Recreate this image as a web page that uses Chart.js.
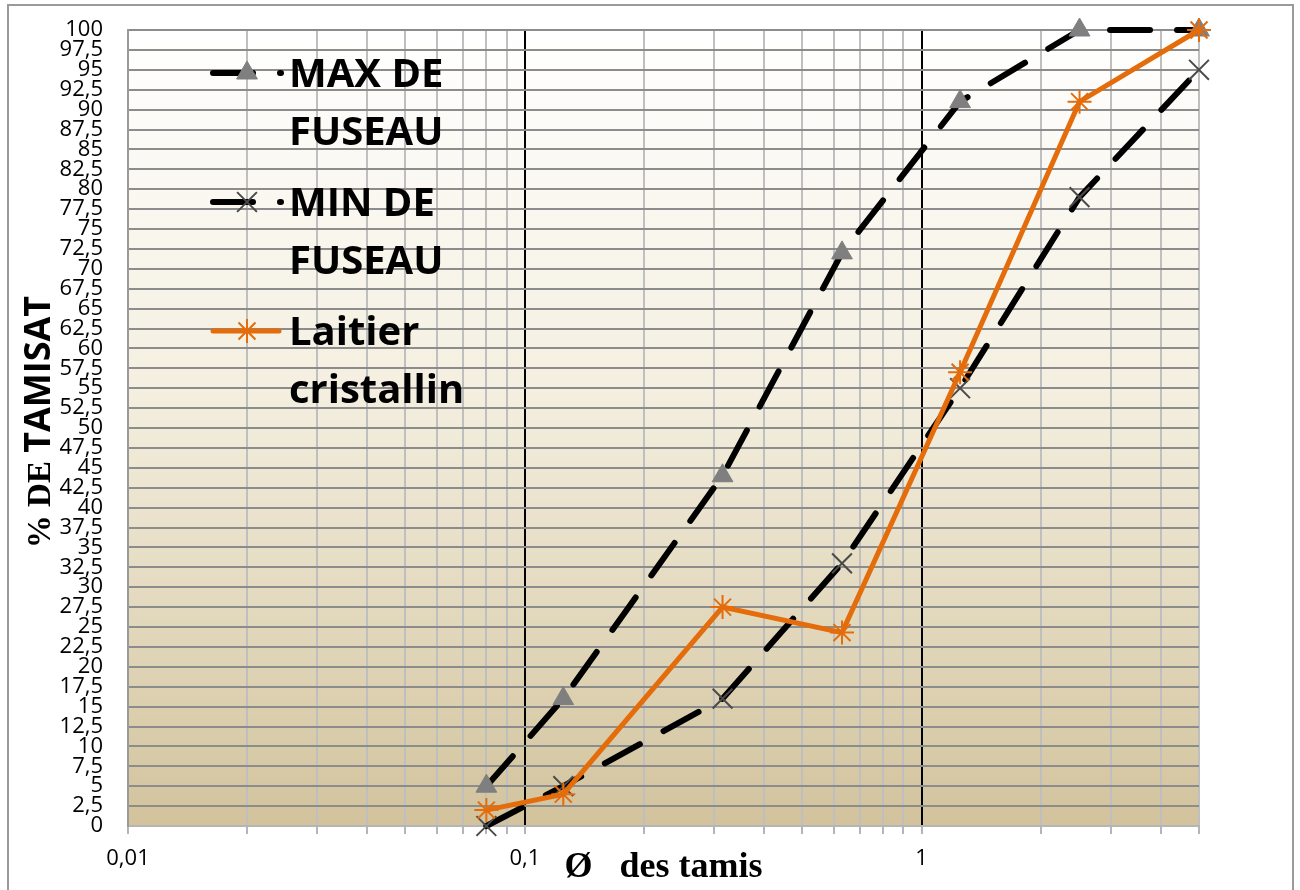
<!DOCTYPE html>
<html>
<head>
<meta charset="utf-8">
<title>Courbe granulométrique</title>
<script src="https://cdn.jsdelivr.net/npm/chart.js@4/dist/chart.umd.min.js"></script>
<style>
  html, body { margin: 0; padding: 0; background: #fff; overflow: hidden; }
  canvas { display: block; }
</style>
</head>
<body>
<canvas id="granulo" width="1300" height="890"></canvas>
<script>
// sieve openings (mm) and % passing
const sieves = [0.08, 0.125, 0.315, 0.63, 1.25, 2.5, 5];
const maxFuseau = [5, 16, 44, 72, 91, 100, 100];
const minFuseau = [0, 5, 16, 33, 55, 79, 95];
const laitier = [2, 4, 27.5, 24.3, 57, 91, 100];

const seriesNames = [["MAX DE", "FUSEAU"], ["MIN DE", "FUSEAU"], ["Laitier", "cristallin"]];

// log grid lines on the x axis, only decades get a label
const xGridValues = [0.01, 0.02, 0.03, 0.04, 0.05, 0.06, 0.07, 0.08, 0.09,
  0.1, 0.2, 0.3, 0.4, 0.5, 0.6, 0.7, 0.8, 0.9, 1, 2, 3, 4, 5];
const xTickValues = [0.01, 0.1, 1];
const xTickLabels = ["0,01", "0,1", "1"];
const xMajorLines = [0.1, 1];

const xTitle = "Ø   des tamis";
const yTitle = ["% DE ", "TAMISAT"];

function toPoints(xs, ys) {
  return ys.map(function (y, i) {
    return { x: xs[i], y: y };
  });
}

// white-to-sand fill behind the plot
const plotBackground = {
  id: "plotBackground",
  beforeDraw(chart) {
    const { ctx, chartArea: a } = chart;
    ctx.save();
    ctx.strokeStyle = "#9a9a9a";
    ctx.lineWidth = 2;
    ctx.strokeRect(8, 5, 1285, 900);
    const g = ctx.createLinearGradient(0, a.top, 0, a.bottom);
    g.addColorStop(0, "#ffffff");
    g.addColorStop(0.45, "#f4efe0");
    g.addColorStop(1, "#d2c39c");
    ctx.fillStyle = g;
    ctx.fillRect(a.left, a.top, a.right - a.left, a.bottom - a.top);
    ctx.restore();
  },
};

// axis titles: mixed serif / sans like the original sheet
const axisTitles = {
  id: "axisTitles",
  afterDraw(chart) {
    const { ctx, chartArea: a } = chart;
    ctx.save();
    ctx.fillStyle = "#000";
    ctx.textBaseline = "alphabetic";

    ctx.font = "bold 36px 'Liberation Serif'";
    ctx.textAlign = "center";
    ctx.fillText(xTitle, (a.left + a.right) / 2, 877);

    ctx.translate(50, 422);
    ctx.rotate(-Math.PI / 2);
    const serif = "bold 33px 'Liberation Serif'";
    const sans = "bold 36px 'Open Sans'";
    ctx.font = serif;
    const w1 = ctx.measureText(yTitle[0]).width;
    ctx.font = sans;
    const w2 = ctx.measureText(yTitle[1]).width;
    const x = -(w1 + w2) / 2;
    ctx.textAlign = "left";
    ctx.font = serif;
    ctx.fillText(yTitle[0], x, 0);
    ctx.font = sans;
    ctx.fillText(yTitle[1], x + w1, 0);
    ctx.restore();
  },
};

function drawMarker(ctx, ds, x, y) {
  ctx.save();
  ctx.fillStyle = ds.pointBackgroundColor;
  ctx.strokeStyle = ds.pointBorderColor;
  ctx.lineWidth = ds.pointBorderWidth;
  Chart.helpers.drawPoint(ctx, {
    pointStyle: ds.pointStyle,
    radius: ds.pointRadius,
    borderWidth: ds.pointBorderWidth,
    rotation: 0,
  }, x, y);
  ctx.restore();
}

// two-line legend entries in the upper left of the plot
const bigLegend = {
  id: "bigLegend",
  afterDraw(chart) {
    const { ctx } = chart;
    ctx.save();
    chart.data.datasets.forEach(function (ds, i) {
      const base = 87 + i * 129;
      const ly = base - 14;
      ctx.save();
      ctx.strokeStyle = ds.borderColor;
      ctx.lineWidth = ds.borderWidth;
      ctx.lineCap = "round";
      ctx.setLineDash(ds.borderDash || []);
      ctx.beginPath();
      ctx.moveTo(213, ly);
      ctx.lineTo(ds.borderDash ? 281 : 279, ly);
      ctx.stroke();
      ctx.restore();
      drawMarker(ctx, ds, 247, ly);
      ctx.fillStyle = "#000";
      ctx.font = "bold 40px 'Open Sans'";
      ctx.textAlign = "left";
      ctx.textBaseline = "alphabetic";
      seriesNames[i].forEach(function (line, k) {
        ctx.fillText(line, 289, base + k * 58);
      });
    });
    ctx.restore();
  },
};

const ctx = document.getElementById("granulo").getContext("2d");

Chart.defaults.font.family = "'Open Sans'";
Chart.defaults.color = "#000";

new Chart(ctx, {
  type: "scatter",
  data: {
    datasets: [
      {
        label: seriesNames[0].join(" "),
        data: toPoints(sieves, maxFuseau),
        showLine: true,
        borderColor: "#000",
        borderWidth: 6,
        borderDash: [40, 27],
        borderCapStyle: "round",
        pointStyle: "triangle",
        pointRadius: 12,
        pointBackgroundColor: "#7f7f7f",
        pointBorderColor: "#7f7f7f",
        pointBorderWidth: 1,
        clip: false,
        order: 2,
      },
      {
        label: seriesNames[1].join(" "),
        data: toPoints(sieves, minFuseau),
        showLine: true,
        borderColor: "#000",
        borderWidth: 6,
        borderDash: [40, 27],
        borderCapStyle: "round",
        pointStyle: "crossRot",
        pointRadius: 14,
        pointBackgroundColor: "#4a4a4a",
        pointBorderColor: "#4a4a4a",
        pointBorderWidth: 2,
        clip: false,
        order: 1,
      },
      {
        label: seriesNames[2].join(" "),
        data: toPoints(sieves, laitier),
        showLine: true,
        borderColor: "#e46c0a",
        borderWidth: 5,
        pointStyle: "star",
        pointRadius: 12,
        pointBackgroundColor: "#e46c0a",
        pointBorderColor: "#e46c0a",
        pointBorderWidth: 2,
        clip: false,
        order: 0,
      },
    ],
  },
  options: {
    responsive: false,
    animation: false,
    devicePixelRatio: 1,
    layout: { padding: { left: 0, top: 30, right: 101, bottom: 0 } },
    plugins: {
      legend: { display: false },
      tooltip: { enabled: false },
    },
    scales: {
      x: {
        type: "logarithmic",
        min: 0.01,
        max: 5,
        afterBuildTicks(scale) {
          scale.ticks = xGridValues.map((v) => ({ value: v }));
        },
        afterFit(scale) {
          scale.height = 64;
          scale.paddingLeft = 0;
          scale.paddingRight = 0;
        },
        ticks: {
          autoSkip: false,
          maxRotation: 0,
          padding: 12,
          font: { size: 22 },
          callback(value) {
            const k = xTickValues.indexOf(value);
            return k >= 0 ? xTickLabels[k] : "";
          },
        },
        grid: {
          lineWidth: 2,
          tickLength: 8,
          tickColor: "#b5b5b5",
          color(c) {
            if (c.tick && xMajorLines.indexOf(c.tick.value) >= 0) return "#000";
            return "#bfbfbf";
          },
        },
        border: { color: "#b5b5b5", width: 2 },
      },
      y: {
        min: 0,
        max: 100,
        afterFit(scale) {
          scale.width = 128;
          scale.paddingTop = 0;
          scale.paddingBottom = 0;
        },
        ticks: {
          stepSize: 2.5,
          autoSkip: false,
          padding: 25,
          font: { size: 22 },
          callback(value) {
            return String(value).replace(".", ",");
          },
        },
        grid: {
          lineWidth: 2,
          color: "#8c8c8c",
          drawTicks: false,
        },
        border: { color: "#9a9a9a", width: 2 },
      },
    },
  },
  plugins: [plotBackground, axisTitles, bigLegend],
});
</script>
</body>
</html>
